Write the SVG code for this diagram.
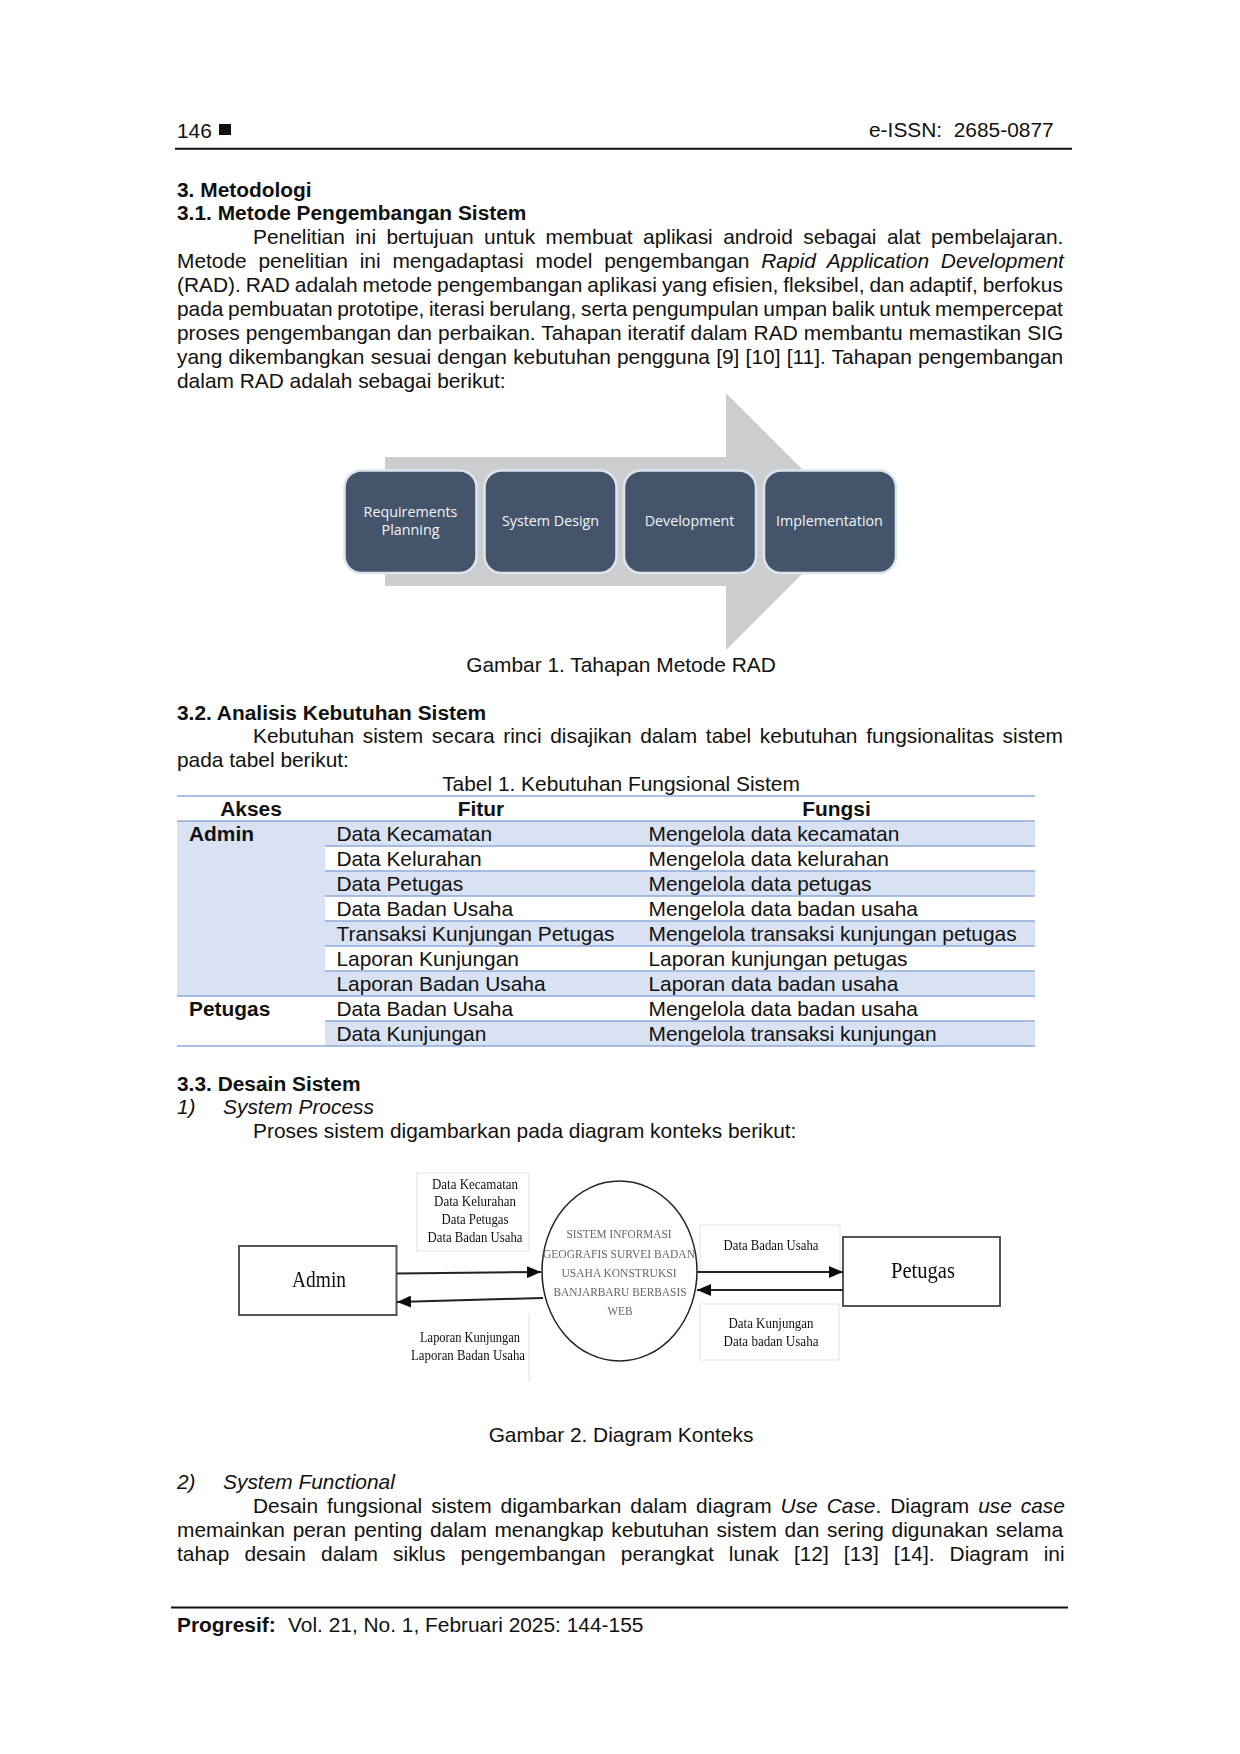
<svg xmlns="http://www.w3.org/2000/svg" width="1240" height="1754" viewBox="0 0 1240 1754">
<style>
text{font-family:"Liberation Sans",Arial,sans-serif;font-size:20.9px;fill:#111}
.b{font-weight:bold}
.i{font-style:italic}
.m{text-anchor:middle}
.step{font-family:"Open Sans","Noto Sans",sans-serif;font-size:14.3px;fill:#f2f4f7;text-anchor:middle}
.box{fill:#44546A;stroke:#DCE5EF;stroke-width:2.5}
.serif{font-family:"Liberation Serif","Times New Roman",serif;font-size:15.5px;fill:#111;text-anchor:middle}
.caps{font-family:"Liberation Serif","Times New Roman",serif;font-size:11.5px;fill:#666;text-anchor:middle}
.ent{fill:#fff;stroke:#555;stroke-width:2}
.lab{fill:#fff;stroke:#ebebeb;stroke-width:1.5}
.conn{stroke:#222;stroke-width:2;fill:none;marker-end:url(#ah)}
.row{fill:#D9E2F3}
.rule{stroke:#8EAADB;stroke-width:1.6}
</style>
<defs>
<marker id="ah" markerUnits="userSpaceOnUse" markerWidth="14" markerHeight="12" refX="14" refY="6" orient="auto"><path d="M0 0L14 6L0 12z" fill="#111"/></marker>
<filter id="soft" x="-5%" y="-5%" width="110%" height="110%"><feGaussianBlur stdDeviation="0.5"/></filter>
</defs>
<rect width="1240" height="1754" fill="#fff"/>
<g id="header">
<text x="177" y="137.5">146</text>
<rect x="219" y="124" width="12" height="11" fill="#111"/>
<text x="869" y="137" xml:space="preserve">e-ISSN:  2685-0877</text>
<line x1="175" y1="148.7" x2="1072" y2="148.7" stroke="#111" stroke-width="2"/>
</g>
<g id="section-3">
<text class="b" x="177" y="197">3. Metodologi</text>
<text class="b" x="177" y="220">3.1. Metode Pengembangan Sistem</text>
<text x="253" y="244" word-spacing="4.62">Penelitian ini bertujuan untuk membuat aplikasi android sebagai alat pembelajaran.</text>
<text x="177" y="268" word-spacing="6">Metode penelitian ini mengadaptasi model pengembangan <tspan class="i">Rapid Application Development</tspan></text>
<text x="177" y="292" word-spacing="-0.86">(RAD). RAD adalah metode pengembangan aplikasi yang efisien, fleksibel, dan adaptif, berfokus</text>
<text x="177" y="316" word-spacing="-1.19">pada pembuatan prototipe, iterasi berulang, serta pengumpulan umpan balik untuk mempercepat</text>
<text x="177" y="340" word-spacing="0.3">proses pengembangan dan perbaikan. Tahapan iteratif dalam RAD membantu memastikan SIG</text>
<text x="177" y="364" word-spacing="0.42">yang dikembangkan sesuai dengan kebutuhan pengguna [9] [10] [11]. Tahapan pengembangan</text>
<text x="177" y="388">dalam RAD adalah sebagai berikut:</text>
</g>
<g id="figure-1">
<path id="process-arrow" d="M385 457H726V393L854.5 521.5L726 650V586H385z" fill="#CCCDCF"/>
<g id="node-requirements"><rect class="box" x="344.5" y="470.5" width="132" height="102.5" rx="17"/><text class="step" x="410.5" y="517">Requirements</text><text class="step" x="410.5" y="535">Planning</text></g>
<g id="node-design"><rect class="box" x="484.5" y="470.5" width="132" height="102.5" rx="17"/><text class="step" x="550.5" y="526">System Design</text></g>
<g id="node-development"><rect class="box" x="624" y="470.5" width="132" height="102.5" rx="17"/><text class="step" x="689.5" y="526">Development</text></g>
<g id="node-implementation"><rect class="box" x="764" y="470.5" width="132" height="102.5" rx="17"/><text class="step" x="829.5" y="526">Implementation</text></g>
<text class="m" x="621" y="672">Gambar 1. Tahapan Metode RAD</text>
</g>
<g id="section-3-2">
<text class="b" x="177" y="719.5">3.2. Analisis Kebutuhan Sistem</text>
<text x="253" y="743" word-spacing="2.9">Kebutuhan sistem secara rinci disajikan dalam tabel kebutuhan fungsionalitas sistem</text>
<text x="177" y="767">pada tabel berikut:</text>
<text class="m" x="621" y="791">Tabel 1. Kebutuhan Fungsional Sistem</text>
</g>
<g id="table-1">
<rect class="row" x="177" y="821" width="148" height="175"/>
<rect class="row" x="325" y="821" width="710" height="25"/>
<rect class="row" x="325" y="871" width="710" height="25"/>
<rect class="row" x="325" y="921" width="710" height="25"/>
<rect class="row" x="325" y="971" width="710" height="25"/>
<rect class="row" x="325" y="1021" width="710" height="25"/>
<line class="rule" x1="177" y1="796" x2="1035" y2="796"/>
<line class="rule" x1="177" y1="821" x2="1035" y2="821"/>
<line class="rule" x1="325" y1="846" x2="1035" y2="846"/>
<line class="rule" x1="325" y1="871" x2="1035" y2="871"/>
<line class="rule" x1="325" y1="896" x2="1035" y2="896"/>
<line class="rule" x1="325" y1="921" x2="1035" y2="921"/>
<line class="rule" x1="325" y1="946" x2="1035" y2="946"/>
<line class="rule" x1="325" y1="971" x2="1035" y2="971"/>
<line class="rule" x1="177" y1="996" x2="1035" y2="996"/>
<line class="rule" x1="325" y1="1021" x2="1035" y2="1021"/>
<line class="rule" x1="177" y1="1046" x2="1035" y2="1046"/>
<text class="b m" x="251" y="816">Akses</text><text class="b m" x="481" y="816">Fitur</text><text class="b m" x="836.5" y="816">Fungsi</text>
<text class="b" x="189" y="841">Admin</text><text x="336.5" y="841">Data Kecamatan</text><text x="648.5" y="841">Mengelola data kecamatan</text>
<text x="336.5" y="866">Data Kelurahan</text><text x="648.5" y="866">Mengelola data kelurahan</text>
<text x="336.5" y="891">Data Petugas</text><text x="648.5" y="891">Mengelola data petugas</text>
<text x="336.5" y="916">Data Badan Usaha</text><text x="648.5" y="916">Mengelola data badan usaha</text>
<text x="336.5" y="941">Transaksi Kunjungan Petugas</text><text x="648.5" y="941">Mengelola transaksi kunjungan petugas</text>
<text x="336.5" y="966">Laporan Kunjungan</text><text x="648.5" y="966">Laporan kunjungan petugas</text>
<text x="336.5" y="991">Laporan Badan Usaha</text><text x="648.5" y="991">Laporan data badan usaha</text>
<text class="b" x="189" y="1016">Petugas</text><text x="336.5" y="1016">Data Badan Usaha</text><text x="648.5" y="1016">Mengelola data badan usaha</text>
<text x="336.5" y="1041">Data Kunjungan</text><text x="648.5" y="1041">Mengelola transaksi kunjungan</text>
</g>
<g id="section-3-3">
<text class="b" x="177" y="1090.5">3.3. Desain Sistem</text>
<text class="i" x="177" y="1114">1)</text><text class="i" x="223" y="1114">System Process</text>
<text x="253" y="1138">Proses sistem digambarkan pada diagram konteks berikut:</text>
</g>
<g id="figure-2" filter="url(#soft)">
<g id="label-input-admin"><rect class="lab" x="417" y="1173" width="112" height="78"/>
<text class="serif" x="475" y="1189" textLength="86" lengthAdjust="spacingAndGlyphs">Data Kecamatan</text>
<text class="serif" x="475" y="1206" textLength="82" lengthAdjust="spacingAndGlyphs">Data Kelurahan</text>
<text class="serif" x="475" y="1224" textLength="67" lengthAdjust="spacingAndGlyphs">Data Petugas</text>
<text class="serif" x="475" y="1242" textLength="95" lengthAdjust="spacingAndGlyphs">Data Badan Usaha</text></g>
<g id="label-output-admin"><line class="lab" x1="529" y1="1313" x2="529" y2="1382"/>
<text class="serif" x="470" y="1342" textLength="100" lengthAdjust="spacingAndGlyphs">Laporan Kunjungan</text>
<text class="serif" x="468" y="1360" textLength="114" lengthAdjust="spacingAndGlyphs">Laporan Badan Usaha</text></g>
<g id="label-output-petugas"><path class="lab" d="M700 1272V1225H840V1272"/>
<text class="serif" x="771" y="1250" textLength="95" lengthAdjust="spacingAndGlyphs">Data Badan Usaha</text></g>
<g id="label-input-petugas"><rect class="lab" x="700" y="1304" width="139" height="56"/>
<text class="serif" x="771" y="1328" textLength="85" lengthAdjust="spacingAndGlyphs">Data Kunjungan</text>
<text class="serif" x="771" y="1346" textLength="95" lengthAdjust="spacingAndGlyphs">Data badan Usaha</text></g>
<g id="node-admin"><rect class="ent" x="239" y="1246" width="157.5" height="69"/>
<text class="serif" style="font-size:24px" x="319" y="1287" textLength="54" lengthAdjust="spacingAndGlyphs">Admin</text></g>
<g id="node-petugas"><rect class="ent" x="843" y="1237" width="157" height="69"/>
<text class="serif" style="font-size:24px" x="923" y="1278" textLength="64" lengthAdjust="spacingAndGlyphs">Petugas</text></g>
<g id="node-system"><ellipse cx="619.5" cy="1271" rx="77.5" ry="90" fill="#fff" stroke="#222" stroke-width="1.5"/>
<text class="caps" x="619" y="1238" textLength="105" lengthAdjust="spacingAndGlyphs">SISTEM INFORMASI</text>
<text class="caps" x="619" y="1258" textLength="152" lengthAdjust="spacingAndGlyphs">GEOGRAFIS SURVEI BADAN</text>
<text class="caps" x="619" y="1277" textLength="115" lengthAdjust="spacingAndGlyphs">USAHA KONSTRUKSI</text>
<text class="caps" x="620" y="1296" textLength="133" lengthAdjust="spacingAndGlyphs">BANJARBARU BERBASIS</text>
<text class="caps" x="620" y="1315" textLength="25" lengthAdjust="spacingAndGlyphs">WEB</text></g>
<g id="connectors">
<line class="conn" x1="397" y1="1273.5" x2="541" y2="1272"/>
<line class="conn" x1="543" y1="1298" x2="397" y2="1302"/>
<line class="conn" x1="697" y1="1272" x2="843" y2="1272"/>
<line class="conn" x1="843" y1="1290" x2="697" y2="1290"/>
</g>
</g>
<text class="m" x="621" y="1442">Gambar 2. Diagram Konteks</text>
<g id="section-functional">
<text class="i" x="177" y="1489">2)</text><text class="i" x="223" y="1489">System Functional</text>
<text x="253" y="1513" word-spacing="3.16">Desain fungsional sistem digambarkan dalam diagram <tspan class="i">Use Case</tspan>. Diagram <tspan class="i">use case</tspan></text>
<text x="177" y="1537" word-spacing="1.85">memainkan peran penting dalam menangkap kebutuhan sistem dan sering digunakan selama</text>
<text x="177" y="1561" word-spacing="9.32">tahap desain dalam siklus pengembangan perangkat lunak [12] [13] [14]. Diagram ini</text>
</g>
<g id="footer">
<line x1="171" y1="1607.5" x2="1068" y2="1607.5" stroke="#111" stroke-width="2"/>
<text class="b" x="177" y="1632">Progresif:</text>
<text x="288" y="1632">Vol. 21, No. 1, Februari 2025: 144-155</text>
</g>
</svg>
